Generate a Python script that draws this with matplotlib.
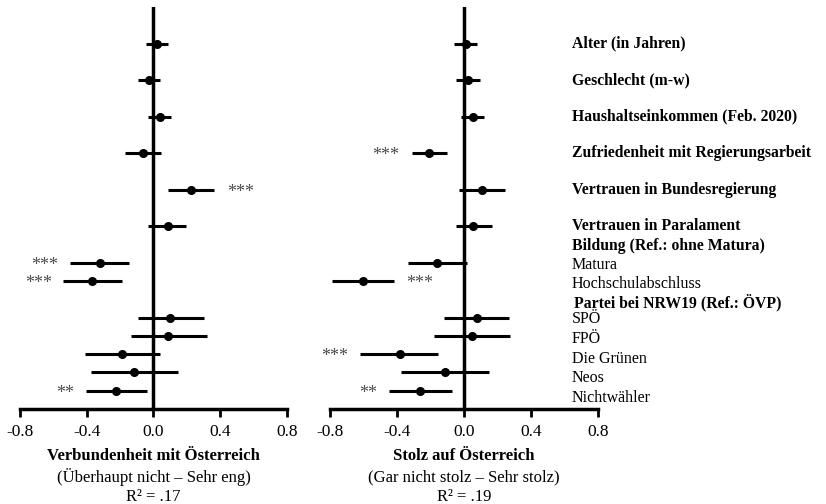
import numpy as np
import matplotlib
matplotlib.use("Agg")
import matplotlib.pyplot as plt
from matplotlib.transforms import blended_transform_factory

plt.rcParams['font.family'] = ['Liberation Serif', 'DejaVu Serif']

# rows (0 = top); 11 and 14 are group headers without estimates
rows = [0, 2, 4, 6, 8, 10, 12, 13, 15, 16, 17, 18, 19]

# Verbundenheit mit Österreich
v_est = [0.02, -0.025, 0.04, -0.06, 0.225, 0.085, -0.32, -0.37, 0.10, 0.09, -0.19, -0.115, -0.225]
v_lo = [-0.045, -0.09, -0.03, -0.17, 0.085, -0.03, -0.50, -0.545, -0.09, -0.135, -0.41, -0.375, -0.405]
v_hi = [0.09, 0.04, 0.105, 0.045, 0.365, 0.195, -0.145, -0.19, 0.30, 0.32, 0.04, 0.145, -0.04]
v_sig = ['', '', '', '', '***', '', '***', '***', '', '', '', '', '**']

# Stolz auf Österreich
s_est = [0.01, 0.025, 0.055, -0.21, 0.105, 0.055, -0.16, -0.605, 0.075, 0.045, -0.385, -0.115, -0.26]
s_lo = [-0.06, -0.045, -0.015, -0.31, -0.03, -0.05, -0.335, -0.79, -0.12, -0.18, -0.62, -0.375, -0.445]
s_hi = [0.08, 0.095, 0.12, -0.10, 0.245, 0.165, 0.02, -0.42, 0.27, 0.275, -0.155, 0.15, -0.07]
s_sig = ['', '', '', '***', '', '', '', '***', '', '', '***', '', '**']

labels = ['Alter (in Jahren)', 'Geschlecht (m-w)', 'Haushaltseinkommen (Feb. 2020)',
          'Zufriedenheit mit Regierungsarbeit', 'Vertrauen in Bundesregierung',
          'Vertrauen in Paralament', 'Bildung (Ref.: ohne Matura)', 'Matura',
          'Hochschulabschluss', 'Partei bei NRW19 (Ref.: ÖVP)', 'SPÖ', 'FPÖ',
          'Die Grünen', 'Neos', 'Nichtwähler']
label_bold = [True] * 7 + [False, False, True] + [False] * 5
label_y = [0, 2, 4, 6, 8, 10, 11.1, 12.1, 13.15, 14.15, 15.1, 16.15, 17.25, 18.3, 19.4]

ticks = [-0.8, -0.4, 0.0, 0.4, 0.8]

# star x positions (left / right panel)
v_star_x = {4: 0.52, 6: -0.65, 7: -0.69, 12: -0.53}
s_star_x = {3: -0.47, 7: -0.265, 10: -0.77, 12: -0.57}

fig = plt.figure(figsize=(8.26, 5.04), dpi=100)
ax1 = fig.add_axes([0.0242, 0.1885, 0.3232, 0.7976])
ax2 = fig.add_axes([0.3995, 0.1885, 0.3245, 0.7976])


def panel(ax, est, lo, hi, sig, star_x, title, sub, r2):
    ax.axvline(0, color='black', lw=2.5, zorder=1)
    ax.hlines(rows, lo, hi, color='black', lw=2.2, zorder=2)
    ax.plot(est, rows, 'o', color='black', ms=5.5, zorder=3)
    for i, s in enumerate(sig):
        if s:
            ax.text(star_x[i], rows[i] + 0.15, s, ha='center', va='center',
                    fontsize=13, color='#4a4a4a')
    ax.set_xlim(-0.8, 0.8)
    ax.set_ylim(20, -2)
    ax.set_xticks(ticks)
    ax.set_xticklabels(['%.1f' % t for t in ticks], fontsize=12.5)
    ax.set_yticks([])
    for sp in ['left', 'right', 'top']:
        ax.spines[sp].set_visible(False)
    ax.spines['bottom'].set_linewidth(2.5)
    ax.tick_params(axis='x', length=6, width=2, direction='out', pad=5)
    ax.text(0.5, -0.118, title, transform=ax.transAxes, ha='center', va='center',
            fontsize=12, fontweight='bold')
    ax.text(0.5, -0.170, sub, transform=ax.transAxes, ha='center', va='center', fontsize=12)
    ax.text(0.5, -0.218, r2, transform=ax.transAxes, ha='center', va='center', fontsize=12)


panel(ax1, v_est, v_lo, v_hi, v_sig, v_star_x, 'Verbundenheit mit Österreich',
      '(Überhaupt nicht – Sehr eng)', 'R² = .17')
panel(ax2, s_est, s_lo, s_hi, s_sig, s_star_x, 'Stolz auf Österreich',
      '(Gar nicht stolz – Sehr stolz)', 'R² = .19')

tr = blended_transform_factory(fig.transFigure, ax2.transData)
for lab, y, b in zip(labels, label_y, label_bold):
    x = 0.695 if lab.startswith('Partei') else 0.6925
    ax2.text(x, y, lab, transform=tr, ha='left', va='center',
             fontsize=11.3 if b else 11.5,
             fontweight='bold' if b else 'normal', clip_on=False)

fig.savefig('out.png', dpi=100)
